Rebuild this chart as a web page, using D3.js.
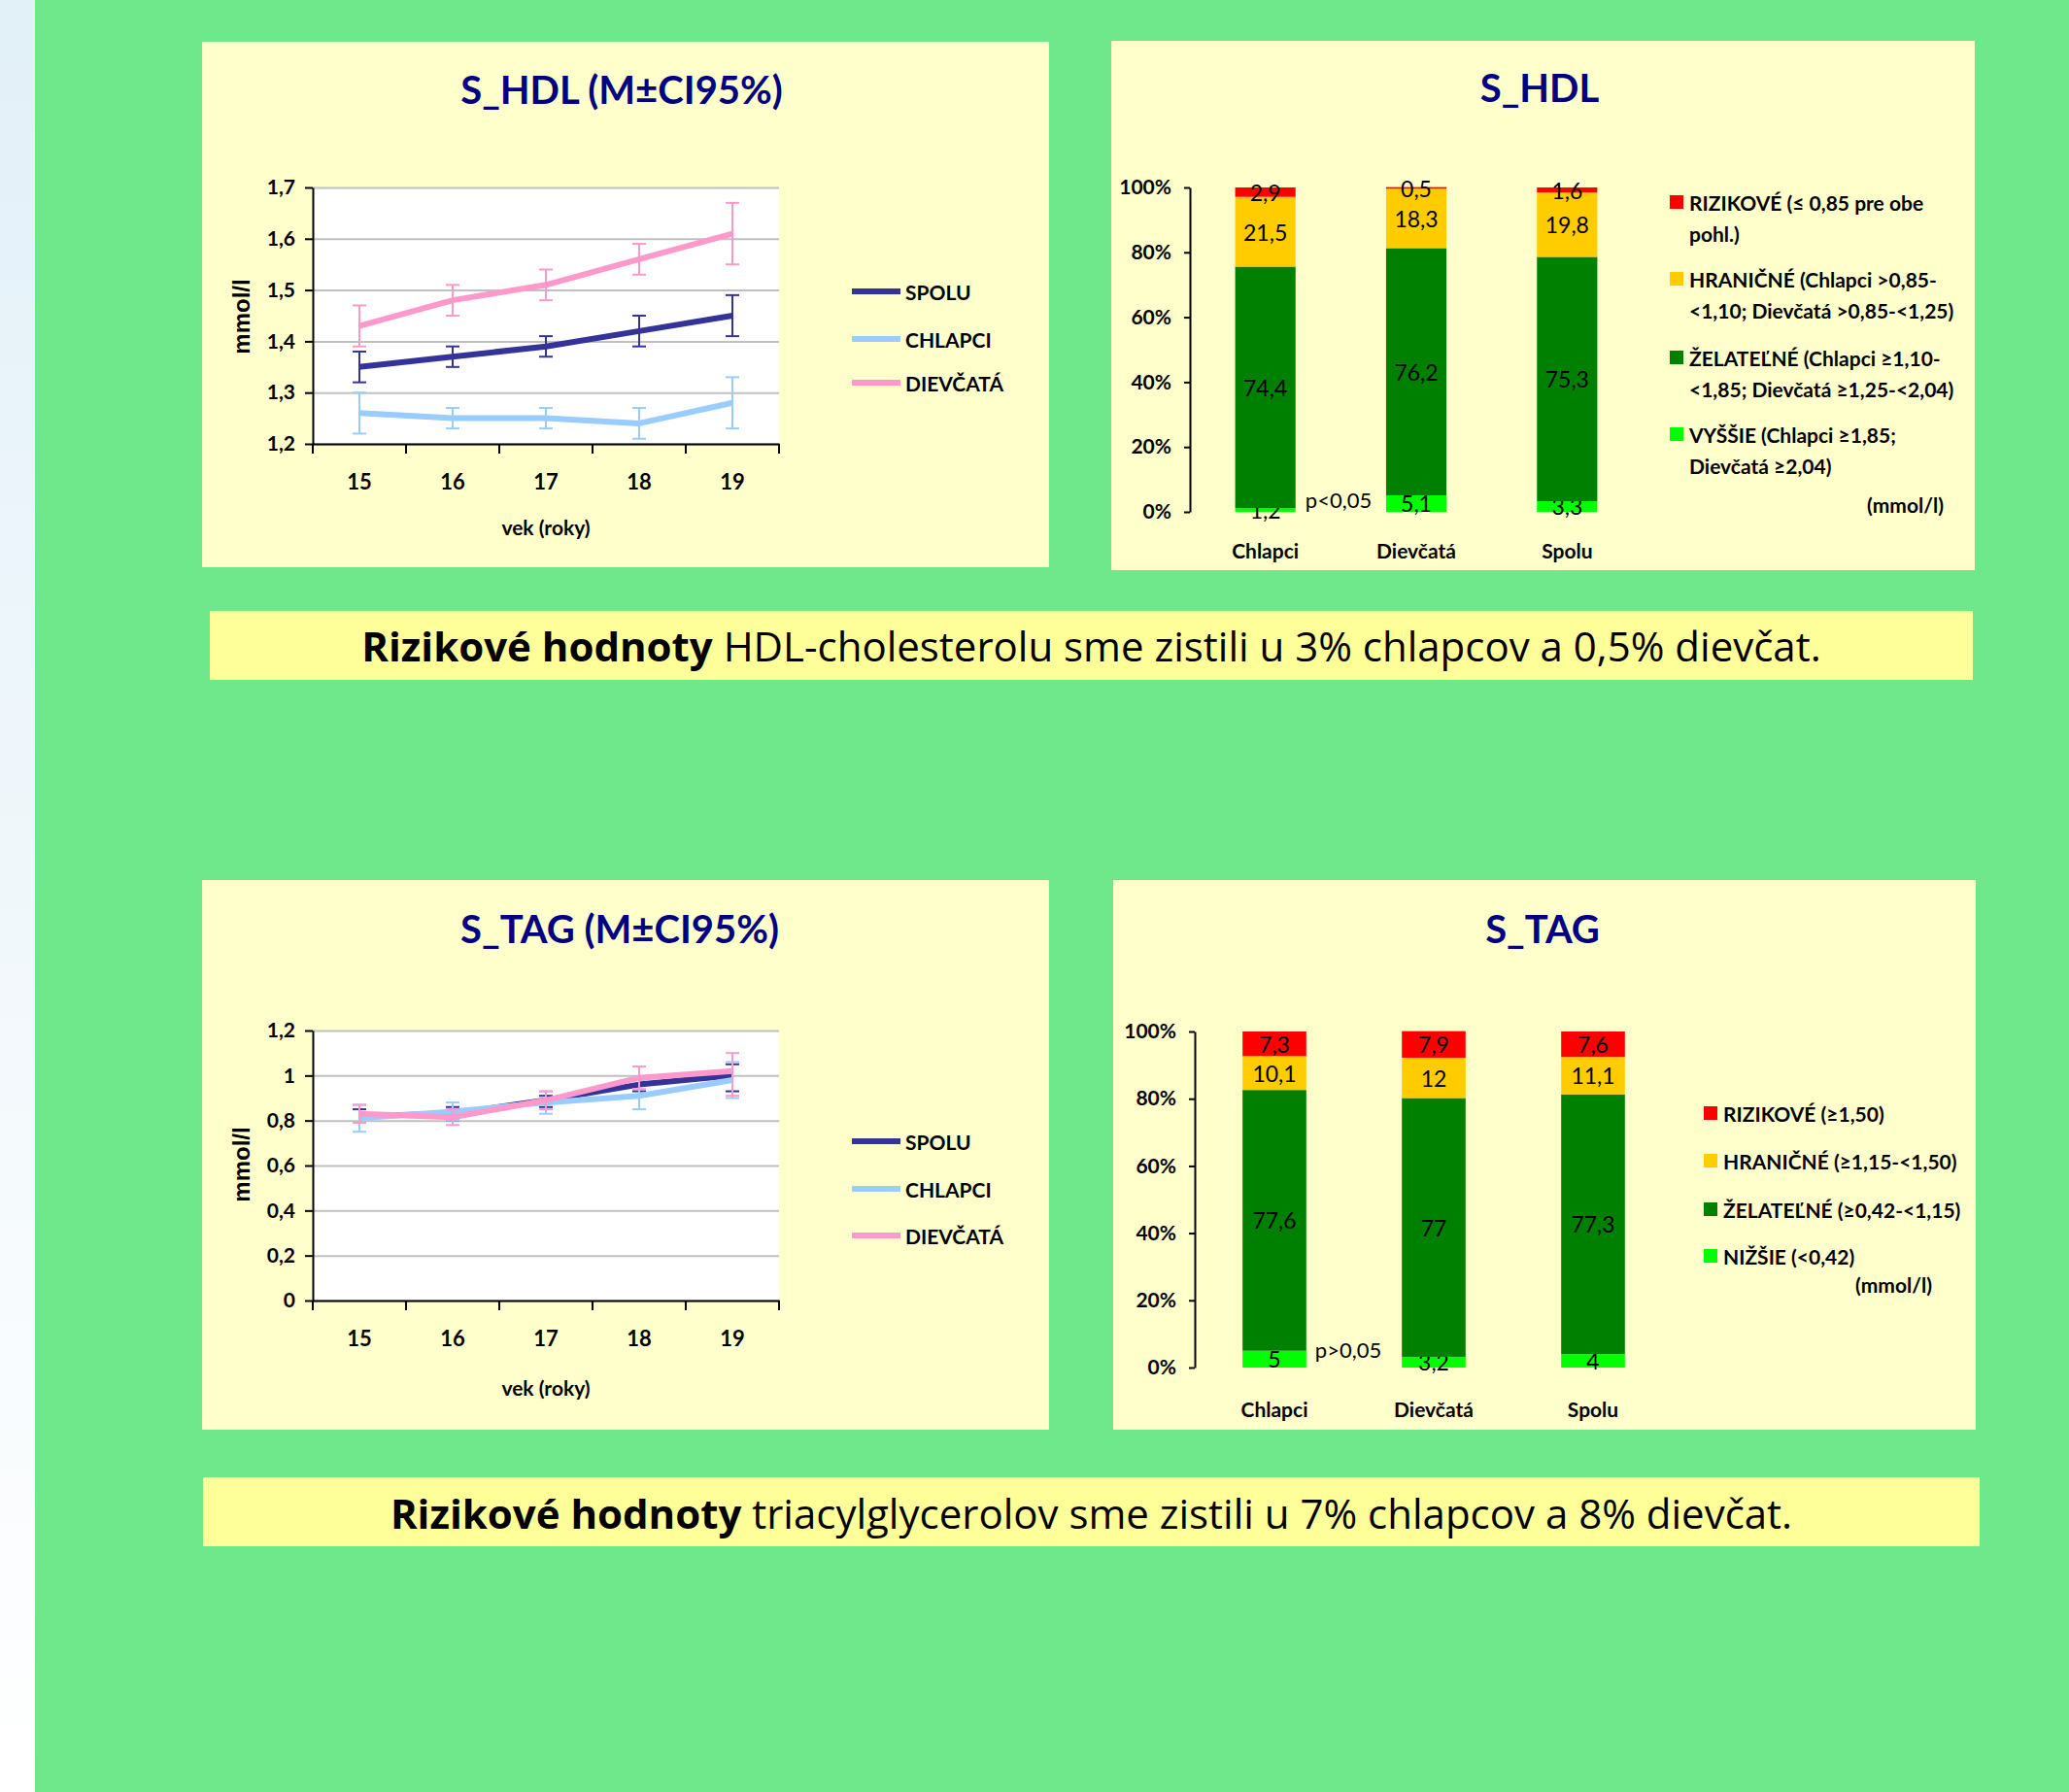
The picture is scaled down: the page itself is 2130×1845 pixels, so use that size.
<!DOCTYPE html>
<html>
<head>
<meta charset="utf-8">
<script src="https://cdn.jsdelivr.net/npm/d3@7"></script>
<style>
body { margin: 0; background: #6ee88a; }
svg { display: block; }
</style>
</head>
<body>
<script>
// --- data ---
const ages = ['15', '16', '17', '18', '19']
const lineNames = ['SPOLU', 'CHLAPCI', 'DIEVČATÁ']

const hdlTicks = [1.2, 1.3, 1.4, 1.5, 1.6, 1.7]
const hdlSpolu = [1.35, 1.37, 1.39, 1.42, 1.45]
const hdlSpoluLow = [1.32, 1.35, 1.37, 1.39, 1.41]
const hdlSpoluHigh = [1.38, 1.39, 1.41, 1.45, 1.49]
const hdlChlapci = [1.26, 1.25, 1.25, 1.24, 1.28]
const hdlChlapciLow = [1.22, 1.23, 1.23, 1.21, 1.23]
const hdlChlapciHigh = [1.30, 1.27, 1.27, 1.27, 1.33]
const hdlDievcata = [1.43, 1.48, 1.51, 1.56, 1.61]
const hdlDievcataLow = [1.39, 1.45, 1.48, 1.53, 1.55]
const hdlDievcataHigh = [1.47, 1.51, 1.54, 1.59, 1.67]

const tagTicks = [0, 0.2, 0.4, 0.6, 0.8, 1, 1.2]
const tagSpolu = [0.82, 0.83, 0.89, 0.96, 1.0]
const tagSpoluLow = [0.79, 0.80, 0.86, 0.93, 0.93]
const tagSpoluHigh = [0.85, 0.86, 0.91, 0.99, 1.05]
const tagChlapci = [0.81, 0.84, 0.88, 0.91, 0.98]
const tagChlapciLow = [0.75, 0.80, 0.83, 0.85, 0.90]
const tagChlapciHigh = [0.87, 0.88, 0.93, 0.98, 1.06]
const tagDievcata = [0.83, 0.815, 0.89, 0.99, 1.02]
const tagDievcataLow = [0.79, 0.78, 0.85, 0.94, 0.91]
const tagDievcataHigh = [0.87, 0.85, 0.93, 1.04, 1.10]

const groups = ['Chlapci', 'Dievčatá', 'Spolu']
const pctTicks = [0, 20, 40, 60, 80, 100]

// bottom -> top
const hdlVyssie = [1.2, 5.1, 3.3]
const hdlZelatelne = [74.4, 76.2, 75.3]
const hdlHranicne = [21.5, 18.3, 19.8]
const hdlRizikove = [2.9, 0.5, 1.6]
const hdlLegend = [
    ['RIZIKOVÉ (≤ 0,85 pre obe', 'pohl.)'],
    ['HRANIČNÉ (Chlapci >0,85-', '<1,10; Dievčatá >0,85-<1,25)'],
    ['ŽELATEĽNÉ (Chlapci ≥1,10-', '<1,85; Dievčatá ≥1,25-<2,04)'],
    ['VYŠŠIE (Chlapci ≥1,85;', 'Dievčatá ≥2,04)']
]

const tagNizsie = [5, 3.2, 4]
const tagZelatelne = [77.6, 77, 77.3]
const tagHranicne = [10.1, 12, 11.1]
const tagRizikove = [7.3, 7.9, 7.6]
const tagLegend = [
    ['RIZIKOVÉ (≥1,50)'],
    ['HRANIČNÉ (≥1,15-<1,50)'],
    ['ŽELATEĽNÉ (≥0,42-<1,15)'],
    ['NIŽŠIE (<0,42)']
]

// --- drawing ---
const W = 2130, H = 1845
const FONT = 'Lato, Carlito, "Open Sans", sans-serif'
const lineColors = ['#333399', '#99ccff', '#ff99cc']
const barColors = ['#00ff00', '#008000', '#ffcc00', '#ff0000']
const comma = d => String(d).replace('.', ',')

const svg = d3.select('body').append('svg')
    .attr('width', W)
    .attr('height', H)
    .attr('font-family', FONT)

const grad = svg.append('defs').append('linearGradient')
    .attr('id', 'strip').attr('x1', 0).attr('y1', 0).attr('x2', 0).attr('y2', 1)
grad.append('stop').attr('offset', '0%').attr('stop-color', '#e2f0f8')
grad.append('stop').attr('offset', '100%').attr('stop-color', '#ffffff')
svg.append('rect').attr('width', 36).attr('height', H).attr('fill', 'url(#strip)')
svg.append('rect').attr('x', 36).attr('width', W - 36).attr('height', H).attr('fill', '#6ee88a')

const styleAxis = (sel, size) => {
    sel.attr('font-family', FONT).attr('font-size', size).attr('font-weight', 'bold')
    sel.select('.domain').attr('stroke', '#000').attr('stroke-width', 2)
    sel.selectAll('.tick line').attr('stroke', '#000').attr('stroke-width', 2)
    sel.selectAll('.tick text').attr('fill', '#000')
}

const drawLinePanel = (cfg) => {
    const g = svg.append('g')
    const [bx, by, bw, bh] = cfg.box
    g.append('rect').attr('x', bx).attr('y', by).attr('width', bw).attr('height', bh).attr('fill', '#ffffcc')

    g.append('text')
        .attr('x', cfg.titleX).attr('y', cfg.titleY)
        .attr('text-anchor', 'middle')
        .attr('font-size', 40).attr('font-weight', 'bold').attr('fill', '#000080')
        .text(cfg.title)

    const x = d3.scaleBand().domain(ages).range([cfg.left, cfg.right])
    const y = d3.scaleLinear().domain(d3.extent(cfg.ticks)).range([cfg.bottom, cfg.top])
    const cx = d => x(d) + x.bandwidth() / 2

    g.append('rect')
        .attr('x', cfg.left).attr('y', cfg.top)
        .attr('width', cfg.right - cfg.left).attr('height', cfg.bottom - cfg.top)
        .attr('fill', '#fff')

    g.append('g')
        .attr('transform', `translate(${cfg.left},0)`)
        .call(d3.axisLeft(y).tickValues(cfg.ticks).tickSize(-(cfg.right - cfg.left)).tickFormat(''))
        .call(s => s.select('.domain').remove())
        .call(s => s.selectAll('line').attr('stroke', '#c0c0c0').attr('stroke-width', 2))

    // series: error bars first, then the line
    cfg.series.forEach((s, k) => {
        const pts = ages.map((a, i) => ({ a, m: s.mean[i], lo: s.low[i], hi: s.high[i] }))
        const eb = g.append('g').attr('stroke', lineColors[k]).attr('stroke-width', 2)
        eb.selectAll('.v').data(pts).join('line')
            .attr('x1', d => cx(d.a)).attr('x2', d => cx(d.a))
            .attr('y1', d => y(d.lo)).attr('y2', d => y(d.hi))
        eb.selectAll('.lo').data(pts).join('line')
            .attr('x1', d => cx(d.a) - 7).attr('x2', d => cx(d.a) + 7)
            .attr('y1', d => y(d.lo)).attr('y2', d => y(d.lo))
        eb.selectAll('.hi').data(pts).join('line')
            .attr('x1', d => cx(d.a) - 7).attr('x2', d => cx(d.a) + 7)
            .attr('y1', d => y(d.hi)).attr('y2', d => y(d.hi))
        g.append('path').datum(pts)
            .attr('d', d3.line().x(d => cx(d.a)).y(d => y(d.m)))
            .attr('fill', 'none')
            .attr('stroke', lineColors[k])
            .attr('stroke-width', 6)
            .attr('stroke-linejoin', 'round')
    })

    g.append('g')
        .attr('transform', `translate(${cfg.left},0)`)
        .call(d3.axisLeft(y).tickValues(cfg.ticks).tickSize(8).tickSizeOuter(0).tickPadding(10).tickFormat(comma))
        .call(s => styleAxis(s, 21))

    g.append('g')
        .attr('transform', `translate(0,${cfg.bottom})`)
        .call(d3.axisBottom(x).tickSize(0).tickPadding(31))
        .call(s => styleAxis(s, 22))

    g.append('g').selectAll('line')
        .data([...ages.map(a => x(a)), cfg.right])
        .join('line')
        .attr('x1', d => d).attr('x2', d => d)
        .attr('y1', cfg.bottom).attr('y2', cfg.bottom + 10)
        .attr('stroke', '#000').attr('stroke-width', 2)

    g.append('text')
        .attr('x', (cfg.left + cfg.right) / 2).attr('y', cfg.xTitleY)
        .attr('text-anchor', 'middle').attr('dominant-baseline', 'central')
        .attr('font-size', 21).attr('font-weight', 'bold')
        .text('vek (roky)')

    g.append('text')
        .attr('transform', `translate(${cfg.yTitleX},${cfg.yTitleY}) rotate(-90)`)
        .attr('text-anchor', 'middle').attr('dominant-baseline', 'central')
        .attr('font-family', '"Liberation Sans", Arial, sans-serif')
        .attr('font-size', 24).attr('font-weight', 'bold')
        .text('mmol/l')

    const leg = g.append('g')
    lineNames.forEach((name, k) => {
        const ly = cfg.legendY[k]
        leg.append('line')
            .attr('x1', 877).attr('x2', 927).attr('y1', ly).attr('y2', ly)
            .attr('stroke', lineColors[k]).attr('stroke-width', 6)
        leg.append('text')
            .attr('x', 932).attr('y', ly)
            .attr('dominant-baseline', 'central')
            .attr('font-size', 21).attr('font-weight', 'bold')
            .text(name)
    })
}

const drawBarPanel = (cfg) => {
    const g = svg.append('g')
    const [bx, by, bw, bh] = cfg.box
    g.append('rect').attr('x', bx).attr('y', by).attr('width', bw).attr('height', bh).attr('fill', '#ffffcc')

    g.append('text')
        .attr('x', cfg.titleX).attr('y', cfg.titleY)
        .attr('text-anchor', 'middle')
        .attr('font-size', 40).attr('font-weight', 'bold').attr('fill', '#000080')
        .text(cfg.title)

    const x = d3.scaleBand().domain(groups).range([cfg.left, cfg.right]).paddingInner(0.6).paddingOuter(0.3)
    const y = d3.scaleLinear().domain([0, 100]).range([cfg.bottom, cfg.top])

    const rows = groups.map((name, i) => {
        const r = { name }
        cfg.layers.forEach((l, j) => { r['k' + j] = l[i] })
        return r
    })
    const keys = cfg.layers.map((l, j) => 'k' + j)
    const stacked = d3.stack().keys(keys)(rows)

    stacked.forEach((layer, j) => {
        const lg = g.append('g')
        lg.selectAll('rect').data(layer).join('rect')
            .attr('x', d => x(d.data.name))
            .attr('width', x.bandwidth())
            .attr('y', d => y(d[1]))
            .attr('height', d => y(d[0]) - y(d[1]))
            .attr('fill', barColors[j])
        lg.selectAll('text').data(layer).join('text')
            .attr('x', d => x(d.data.name) + x.bandwidth() / 2)
            .attr('y', d => y((d[0] + d[1]) / 2))
            .attr('text-anchor', 'middle').attr('dominant-baseline', 'central')
            .attr('font-size', 23)
            .text(d => comma(d.data['k' + j]))
    })

    g.append('g')
        .attr('transform', `translate(${cfg.left},0)`)
        .call(d3.axisLeft(y).tickValues(pctTicks).tickSize(6).tickSizeOuter(0).tickPadding(13).tickFormat(d => d + '%'))
        .call(s => styleAxis(s, 21))

    g.append('g').selectAll('text').data(groups).join('text')
        .attr('x', d => x(d) + x.bandwidth() / 2)
        .attr('y', cfg.catY)
        .attr('text-anchor', 'middle').attr('dominant-baseline', 'central')
        .attr('font-size', 21).attr('font-weight', 'bold')
        .text(d => d)

    g.append('text')
        .attr('x', cfg.pX).attr('y', cfg.pY)
        .attr('text-anchor', 'middle').attr('dominant-baseline', 'central')
        .attr('font-size', 22)
        .text(cfg.pText)

    const leg = g.append('g')
    const order = [3, 2, 1, 0]
    cfg.legend.forEach((lines, k) => {
        const ly = cfg.legendY[k]
        leg.append('rect')
            .attr('x', cfg.legendX).attr('y', ly - 7)
            .attr('width', 14).attr('height', 14)
            .attr('fill', barColors[order[k]])
        lines.forEach((t, m) => {
            leg.append('text')
                .attr('x', cfg.legendX + 20).attr('y', ly + m * 32)
                .attr('dominant-baseline', 'central')
                .attr('font-size', 21).attr('font-weight', 'bold')
                .text(t)
        })
    })
    leg.append('text')
        .attr('x', cfg.unitX).attr('y', cfg.unitY)
        .attr('text-anchor', 'end').attr('dominant-baseline', 'central')
        .attr('font-size', 21).attr('font-weight', 'bold')
        .text('(mmol/l)')
}

const drawNote = (box, baseline, bold, rest) => {
    const [bx, by, bw, bh] = box
    svg.append('rect').attr('x', bx).attr('y', by).attr('width', bw).attr('height', bh).attr('fill', '#ffff99')
    const t = svg.append('text')
        .attr('x', bx + bw / 2).attr('y', baseline)
        .attr('text-anchor', 'middle')
        .attr('font-family', '"Open Sans", "DejaVu Sans", sans-serif')
        .attr('font-size', 42)
    t.append('tspan').attr('font-weight', 'bold').text(bold)
    t.append('tspan').text(' ' + rest)
}

drawLinePanel({
    box: [208, 43, 872, 541],
    title: 'S_HDL (M±CI95%)', titleX: 640, titleY: 107,
    left: 322, right: 802, top: 193, bottom: 457,
    ticks: hdlTicks,
    xTitleY: 542, yTitleX: 248, yTitleY: 326,
    legendY: [300, 349, 394],
    series: [
        { mean: hdlSpolu, low: hdlSpoluLow, high: hdlSpoluHigh },
        { mean: hdlChlapci, low: hdlChlapciLow, high: hdlChlapciHigh },
        { mean: hdlDievcata, low: hdlDievcataLow, high: hdlDievcataHigh }
    ]
})

drawBarPanel({
    box: [1144, 42, 889, 545],
    title: 'S_HDL', titleX: 1585, titleY: 105,
    left: 1225, right: 1691, top: 193, bottom: 527,
    layers: [hdlVyssie, hdlZelatelne, hdlHranicne, hdlRizikove],
    catY: 566,
    pText: 'p<0,05', pX: 1378, pY: 514,
    legend: hdlLegend, legendX: 1719, legendY: [208, 287, 368, 447],
    unitX: 2001, unitY: 519
})

drawNote([216, 629, 1815, 71], 681, 'Rizikové hodnoty', 'HDL-cholesterolu sme zistili u 3% chlapcov a 0,5% dievčat.')

drawLinePanel({
    box: [208, 906, 872, 566],
    title: 'S_TAG (M±CI95%)', titleX: 638, titleY: 971,
    left: 322, right: 802, top: 1061, bottom: 1339,
    ticks: tagTicks,
    xTitleY: 1428, yTitleX: 248, yTitleY: 1199,
    legendY: [1175, 1224, 1272],
    series: [
        { mean: tagSpolu, low: tagSpoluLow, high: tagSpoluHigh },
        { mean: tagChlapci, low: tagChlapciLow, high: tagChlapciHigh },
        { mean: tagDievcata, low: tagDievcataLow, high: tagDievcataHigh }
    ]
})

drawBarPanel({
    box: [1146, 906, 888, 566],
    title: 'S_TAG', titleX: 1588, titleY: 971,
    left: 1230, right: 1722, top: 1062, bottom: 1408,
    layers: [tagNizsie, tagZelatelne, tagHranicne, tagRizikove],
    catY: 1450,
    pText: 'p>0,05', pX: 1388, pY: 1389,
    legend: tagLegend, legendX: 1754, legendY: [1146, 1195, 1245, 1293],
    unitX: 1989, unitY: 1322
})

drawNote([209, 1521, 1829, 71], 1574, 'Rizikové hodnoty', 'triacylglycerolov sme zistili u 7% chlapcov a 8% dievčat.')
</script>
</body>
</html>
